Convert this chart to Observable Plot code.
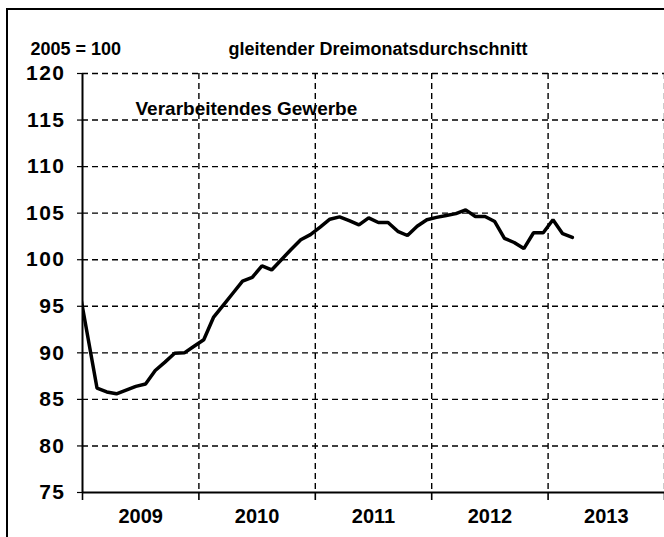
<!DOCTYPE html>
<html>
<head>
<meta charset="utf-8">
<script src="https://cdn.jsdelivr.net/npm/d3@7"></script>
<script src="https://cdn.jsdelivr.net/npm/@observablehq/plot@0.6"></script>
<style>
  html, body { margin: 0; padding: 0; background: #fff; }
  #wrap { position: relative; width: 664px; height: 537px; overflow: hidden; }
  #border { position: absolute; left: 6px; top: 8px; width: 700px; height: 600px;
            border-left: 2px solid #000; border-top: 2px solid #000; pointer-events: none; }
  svg { font-family: "Liberation Sans", Arial, sans-serif; }
</style>
</head>
<body>
<div id="wrap"><div id="border"></div></div>
<script>
// Monthly three-month moving average, Verarbeitendes Gewerbe (2005 = 100)
const firstMonth = [2008, 12]; // first value is December 2008
const values = [
  97.8,
  92.0, 86.2, 85.8, 85.6, 86.0, 86.4, 86.65, 88.1, 89.0, 89.95, 90.0, 90.7,
  91.4, 93.8, 95.1, 96.4, 97.7, 98.1, 99.35, 98.9, 100.0, 101.1, 102.15, 102.7,
  103.5, 104.35, 104.6, 104.2, 103.75, 104.5, 104.0, 104.0, 103.05, 102.6, 103.6, 104.3,
  104.55, 104.75, 104.95, 105.35, 104.65, 104.65, 104.1, 102.3, 101.85, 101.2, 102.9, 102.9,
  104.3, 102.8, 102.4
];
const yearBoundaries = [2009, 2010, 2011, 2012, 2013, 2014];
const yearLabels = ["2009", "2010", "2011", "2012", "2013"];
const yTicks = [75, 80, 85, 90, 95, 100, 105, 110, 115, 120];
const unitLabel = "2005 = 100";
const title = "gleitender Dreimonatsdurchschnitt";
const seriesLabel = "Verarbeitendes Gewerbe";

const data = values.map((v, i) => {
  const m = firstMonth[1] - 1 + i; // zero-based month offset
  return { t: firstMonth[0] + (m + 0.5) / 12, v };
});
const labelPos = yearLabels.map(y => ({ label: y, t: +y + 0.5 }));

const chart = Plot.plot({
  width: 664,
  height: 537,
  marginLeft: 82,
  marginRight: 0,
  marginTop: 73,
  marginBottom: 45,
  x: { domain: [2009, 2014] },
  y: { domain: [75, 120] },
  marks: [
    Plot.gridY(yTicks.filter(d => d > 75), { stroke: "#000", strokeOpacity: 1, strokeWidth: 1.4, strokeDasharray: "6,4" }),
    Plot.gridX(yearBoundaries.filter(d => d > 2009), { stroke: "#000", strokeOpacity: 1, strokeWidth: 1.4, strokeDasharray: "6,4" }),
    Plot.axisY({ ticks: yTicks, tickSize: 5, tickPadding: 12, fontSize: 21, fontWeight: "bold", label: null, stroke: "#000", strokeWidth: 1.2 }),
    Plot.axisX({ ticks: yearBoundaries, tickSize: 8, tickFormat: () => "", label: null, stroke: "#000", strokeWidth: 1.6 }),
    Plot.text(labelPos, { x: "t", text: "label", frameAnchor: "bottom", dy: 24, lineAnchor: "middle", fontSize: 20, fontWeight: "bold" }),
    Plot.ruleX([2009], { stroke: "#000", strokeWidth: 2 }),
    Plot.ruleY([75], { stroke: "#000", strokeWidth: 2 }),
    Plot.line(data, { x: "t", y: "v", stroke: "#000", strokeWidth: 3.5, clip: true, strokeLinejoin: "miter" }),
    Plot.text([unitLabel], { frameAnchor: "top-left", dx: -52, dy: -31, textAnchor: "start", fontSize: 18, fontWeight: "bold" }),
    Plot.text([title], { frameAnchor: "top-left", dx: 146, dy: -31, textAnchor: "start", fontSize: 18, fontWeight: "bold" }),
    Plot.text([seriesLabel], { frameAnchor: "top-left", dx: 53, dy: 28, textAnchor: "start", fontSize: 19, fontWeight: "bold" })
  ]
});
chart.style.position = "absolute";
chart.style.left = "0px";
chart.style.top = "0px";
chart.style.background = "transparent";
d3.select(chart).selectAll("[aria-label='y-axis tick label'] text").attr("letter-spacing", "1.5px");
document.getElementById("wrap").appendChild(chart);
</script>
</body>
</html>
